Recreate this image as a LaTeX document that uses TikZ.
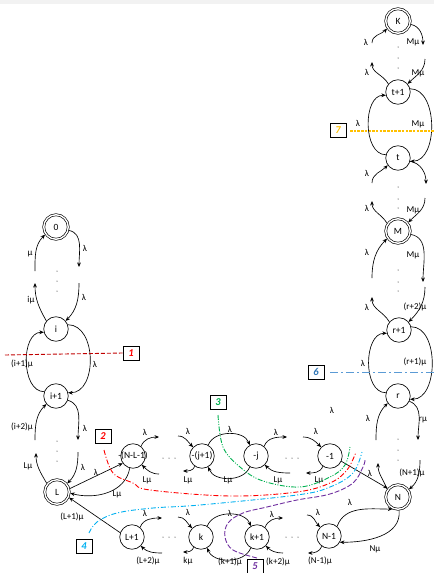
\documentclass[tikz,border=0pt]{standalone}
\usepackage{fontspec}
\setmainfont{Carlito}
\usetikzlibrary{arrows.meta}
\definecolor{cDR}{HTML}{C00000}
\definecolor{cRed}{HTML}{FF0000}
\definecolor{cGreen}{HTML}{00B050}
\definecolor{cCyan}{HTML}{00B0F0}
\definecolor{cPurple}{HTML}{7030A0}
\definecolor{cBlue}{HTML}{2E75B6}
\definecolor{cBlueL}{HTML}{5B9BD5}
\definecolor{cYel}{HTML}{FFC000}
\newcommand\ntx[1]{\makebox[0pt]{#1}}
\begin{document}
\begin{tikzpicture}[x=1pt,y=1pt,
  st/.style={circle,draw,line width=0.65pt,minimum size=24.5pt,inner sep=0pt,font=\fontsize{9.5}{10}\selectfont},
  dst/.style={st,double,double distance=1.4pt,outer sep=1.1pt},
  lab/.style={font=\fontsize{9}{10}\selectfont,inner sep=0pt},
  ar/.style={-{Stealth[length=4.5pt,width=3.8pt]},line width=0.65pt},
  boxn/.style={draw,line width=0.8pt,minimum width=16pt,minimum height=14pt,inner sep=0pt,font=\bfseries\itshape\fontsize{10.5}{10}\selectfont},
  cut/.style={line width=0.9pt}
]
\useasboundingbox (0,0) rectangle (434,-573);
\fill[gray!10] (0,0) rectangle (434,-4);
% states
\node[dst] (n0) at (56,-227) {\ntx{0}};
\node[st] (ni) at (56,-329) {\ntx{i}};
\node[st] (ni1) at (56,-396) {\ntx{i+1}};
\node[dst] (nL) at (57,-492) {\ntx{L}};
\node[st] (nNL) at (133,-456) {\ntx{-(N-L-1)}};
\node[st] (nj1) at (202,-456) {\ntx{-(j+1)}};
\node[st] (nj) at (256,-456) {\ntx{-j}};
\node[st] (nm1) at (330,-456) {\ntx{-1}};
\node[dst] (nN) at (398,-497) {\ntx{N}};
\node[st] (nL1) at (132,-537) {\ntx{L+1}};
\node[st] (nk) at (201,-537) {\ntx{k}};
\node[st] (nk1) at (257,-537) {\ntx{k+1}};
\node[st] (nN1) at (329,-536) {\ntx{N-1}};
\node[st] (nr) at (398,-396) {\ntx{r}};
\node[st] (nr1) at (399,-330) {\ntx{r+1}};
\node[dst] (nM) at (398,-231) {\ntx{M}};
\node[st] (nt) at (398,-158) {\ntx{t}};
\node[st] (nt1) at (398,-92) {\ntx{t+1}};
\node[dst] (nK) at (398,-21) {\ntx{K}};
% free ends
\coordinate (ca) at (79,-267);
\coordinate (cb) at (35,-271);
\coordinate (cc) at (79,-283);
\coordinate (cd) at (35,-283);
\coordinate (ce) at (78,-440);
\coordinate (cf) at (35,-440);
\coordinate (cg) at (78,-452);
\coordinate (ch) at (36,-453);
\coordinate (ci) at (159,-437);
\coordinate (cj) at (159,-474);
\coordinate (ck) at (178,-436);
\coordinate (cl) at (183,-471);
\coordinate (cm) at (287,-437);
\coordinate (cn) at (290,-473);
\coordinate (co) at (303,-437);
\coordinate (cp) at (306,-473);
\coordinate (cq) at (162,-518);
\coordinate (cr) at (162,-553);
\coordinate (cs) at (178,-517);
\coordinate (ct) at (183,-552);
\coordinate (cu) at (283,-518);
\coordinate (cv) at (283,-553);
\coordinate (cw) at (307,-515);
\coordinate (cx) at (308,-553);
\coordinate (cy) at (372,-43);
\coordinate (cz) at (423,-45);
\coordinate (caa) at (425,-59);
\coordinate (cab) at (372,-62);
\coordinate (cac) at (372,-183);
\coordinate (cad) at (426,-184);
\coordinate (cae) at (372,-201);
\coordinate (caf) at (425,-198);
\coordinate (cag) at (372,-278);
\coordinate (cah) at (423,-282);
\coordinate (cai) at (425,-287);
\coordinate (caj) at (372,-297);
\coordinate (cak) at (376,-440);
\coordinate (cal) at (418,-440);
\coordinate (cam) at (378,-463);
\coordinate (can) at (420,-460);
% left column
\draw[ar] (n0.-15) to[out=-10,in=90] (ca);
\draw[ar] (cb) to[out=90,in=225] (n0.215);
\draw[ar] (cc) to[out=-90,in=45] (ni.40);
\draw[ar] (ni.140) to[out=120,in=-90] (cd);
\draw[ar] (ni.20) to[out=0,in=0,looseness=1.1] (ni1.15);
\draw[ar] (ni1.160) to[out=180,in=180,looseness=1.0] (ni.195);
\draw[ar] (ni1.-20) to[out=-15,in=90] (ce);
\draw[ar] (cf) to[out=90,in=225] (ni1.220);
\draw[ar] (cg) to[out=-90,in=45] (nL.40);
\draw[ar] (nL.140) to[out=120,in=-90] (ch);
\draw[ar] (nL.15) -- (nNL.215);
\draw[ar] (nNL.255) to[out=-100,in=-15] (nL.-5);
\draw[ar] (nL1.160) -- (nL.-25);
% top middle row
\draw[ar] (nNL.50) to[out=70,in=180] (ci);
\draw[ar] (cj) to[out=180,in=-45] (nNL.-45);
\draw[ar] (ck) to[out=0,in=135] (nj1.135);
\draw[ar] (nj1.-125) to[out=-110,in=0] (cl);
\draw[ar] (nj1.60) to[out=70,in=110] (nj.120);
\draw[ar] (nj.-120) to[out=-110,in=-70] (nj1.-60);
\draw[ar] (nj.50) to[out=70,in=180] (cm);
\draw[ar] (cn) to[out=180,in=-45] (nj.-45);
\draw[ar] (co) to[out=0,in=135] (nm1.135);
\draw[ar] (nm1.-125) to[out=-110,in=0] (cp);
\draw[ar] (nm1.-25) -- (nN.140);
% bottom row
\draw[ar] (nL1.50) to[out=70,in=180] (cq);
\draw[ar] (cr) to[out=180,in=-45] (nL1.-45);
\draw[ar] (cs) to[out=0,in=135] (nk.135);
\draw[ar] (nk.-125) to[out=-110,in=0] (ct);
\draw[ar] (nk.60) to[out=70,in=110] (nk1.120);
\draw[ar] (nk1.-120) to[out=-110,in=-70] (nk.-60);
\draw[ar] (nk1.50) to[out=70,in=180] (cu);
\draw[ar] (cv) to[out=180,in=-45] (nk1.-45);
\draw[ar] (cw) to[out=0,in=135] (nN1.135);
\draw[ar] (nN1.-125) to[out=-110,in=0] (cx);
\draw[ar] (nN1.50) to[out=70,in=180] (nN.-115);
\draw[ar] (nN.-85) to[out=-85,in=0] (nN1.-30);
% right column
\draw[ar] (cy) to[out=90,in=225] (nK.215);
\draw[ar] (nK.-15) to[out=-10,in=90] (cz);
\draw[ar] (caa) to[out=-90,in=45] (nt1.40);
\draw[ar] (nt1.140) to[out=120,in=-90] (cab);
\draw[ar] (nt.165) to[out=180,in=180] (nt1.195);
\draw[ar] (nt1.15) to[out=0,in=0] (nt.-15);
\draw[ar] (cac) to[out=90,in=225] (nt.215);
\draw[ar] (nt.-15) to[out=-10,in=90] (cad);
\draw[ar] (nM.145) to[out=120,in=-90] (cae);
\draw[ar] (caf) to[out=-90,in=45] (nM.40);
\draw[ar] (cag) to[out=90,in=225] (nM.215);
\draw[ar] (nM.-15) to[out=-10,in=90] (cah);
\draw[ar] (cai) to[out=-90,in=45] (nr1.40);
\draw[ar] (nr1.140) to[out=120,in=-90] (caj);
\draw[ar] (nr.165) to[out=180,in=180] (nr1.195);
\draw[ar] (nr1.15) to[out=0,in=0] (nr.-15);
\draw[ar] (cak) to[out=90,in=225] (nr.215);
\draw[ar] (nr.-25) to[out=-20,in=90] (cal);
\draw[ar] (nN.145) to[out=110,in=-90] (cam);
\draw[ar] (can) to[out=-90,in=40] (nN.35);
% dots
\foreach \y in {271,281,291,441,451,461} \fill (57,-\y) circle (0.5pt);
\foreach \y in {47,58,68,187,199,208,270,282,291,439,450,460} \fill (398,-\y) circle (0.5pt);
\foreach \x in {163,169,175,286,292,298} {\fill (\x,-458) circle (0.5pt); \fill (\x,-537) circle (0.5pt);}
% labels
\node[lab] (l1) at (85,-248) {λ};
\node[lab] (l2) at (30,-254) {μ};
\node[lab] (l3) at (84,-297) {λ};
\node[lab] (l4) at (31,-300) {iμ};
\node[lab] (l5) at (95,-364) {λ};
\node[lab] (l6) at (22,-364) {(i+1)μ};
\node[lab] (l7) at (85,-428) {λ};
\node[lab] (l8) at (22,-427) {(i+2)μ};
\node[lab] (l9) at (83,-467) {λ};
\node[lab] (l10) at (28,-466) {Lμ};
\node[lab] (l11) at (96,-472) {λ};
\node[lab] (l12) at (117,-494) {Lμ};
\node[lab] (l13) at (72,-517) {(L+1)μ};
\node[lab] (l14) at (145,-432) {λ};
\node[lab] (l15) at (147,-480) {Lμ};
\node[lab] (l16) at (188,-431) {λ};
\node[lab] (l17) at (188,-480) {Lμ};
\node[lab] (l18) at (230,-429) {λ};
\node[lab] (l19) at (228,-480) {Lμ};
\node[lab] (l20) at (276,-432) {λ};
\node[lab] (l21) at (278,-480) {Lμ};
\node[lab] (l22) at (316,-431) {λ};
\node[lab] (l23) at (319,-480) {Lμ};
\node[lab] (l24) at (332,-410) {λ};
\node[lab] (l25) at (145,-513) {λ};
\node[lab] (l26) at (148,-561) {(L+2)μ};
\node[lab] (l27) at (188,-512) {λ};
\node[lab] (l28) at (188,-561) {kμ};
\node[lab] (l29) at (230,-513) {λ};
\node[lab] (l30) at (230,-562) {(k+1)μ};
\node[lab] (l31) at (272,-514) {λ};
\node[lab] (l32) at (278,-562) {(k+2)μ};
\node[lab] (l33) at (318,-512) {λ};
\node[lab] (l34) at (320,-561) {(N-1)μ};
\node[lab] (l35) at (350,-502) {λ};
\node[lab] (l36) at (375,-549) {Nμ};
\node[lab] (l37) at (366,-42) {λ};
\node[lab] (l38) at (413,-42) {Mμ};
\node[lab] (l39) at (418,-73) {Mμ};
\node[lab] (l40) at (367,-72) {λ};
\node[lab] (l41) at (358,-123) {λ};
\node[lab] (l42) at (418,-124) {Mμ};
\node[lab] (l43) at (367,-173) {λ};
\node[lab] (l44) at (367,-208) {λ};
\node[lab] (l45) at (413,-210) {Mμ};
\node[lab] (l46) at (367,-252) {λ};
\node[lab] (l47) at (413,-255) {Mμ};
\node[lab] (l48) at (415,-307) {(r+2)μ};
\node[lab] (l49) at (367,-307) {λ};
\node[lab] (l50) at (363,-363) {λ};
\node[lab] (l51) at (415,-362) {(r+1)μ};
\node[lab] (l52) at (368,-418) {λ};
\node[lab] (l53) at (423,-420) {rμ};
\node[lab] (l54) at (370,-473) {λ};
\node[lab] (l55) at (412,-473) {(N+1)μ};
% cut boxes
\node[boxn,text=cRed] (b1) at (131,-353) {1};
\node[boxn,text=cRed] (b2) at (103,-436) {2};
\node[boxn,text=cGreen] (b3) at (218,-402) {3};
\node[boxn,text=cCyan] (b4) at (84,-546) {4};
\node[boxn,text=cPurple] (b5) at (255,-566) {5};
\node[boxn,text=cBlue] (b6) at (316,-372) {6};
\node[boxn,text=cYel] (b7) at (338,-130) {7};
% cuts
\draw[cut,cDR,dash pattern=on 4pt off 2pt] (5,-355) -- (b1.west);
\draw[cut,cRed,dash pattern=on 5pt off 2pt on 1pt off 2pt] plot[smooth,tension=0.6] coordinates {(104,-450) (113,-473) (133,-483) (150,-490) (230,-496) (297,-492) (330,-483) (347,-470) (356,-452)};
\draw[cut,cGreen,dash pattern=on 5pt off 1.5pt on 1pt off 1.5pt on 1pt off 1.5pt] plot[smooth,tension=0.6] coordinates {(218,-415) (223,-447) (240,-467) (263,-481) (300,-487) (330,-477) (345,-465) (350,-447)};
\draw[cut,cCyan,dash pattern=on 5pt off 2pt on 1pt off 2pt] plot[smooth,tension=0.6] coordinates {(89,-533) (97,-522) (117,-513) (153,-508) (200,-505) (297,-495) (330,-487) (353,-473) (362,-452)};
\draw[cut,cPurple,dash pattern=on 5pt off 2pt] plot[smooth,tension=0.6] coordinates {(257,-558) (233,-550) (225,-537) (228,-523) (243,-513) (267,-507) (297,-500) (330,-494) (353,-483) (363,-467) (365,-460)};
\draw[cut,cBlueL,dash pattern=on 8pt off 3pt on 2pt off 3pt] (330,-372) -- (434,-372);
\draw[cYel,line width=1.2pt,dash pattern=on 2.5pt off 1.2pt] (350,-131) -- (434,-131);
\end{tikzpicture}
\end{document}
